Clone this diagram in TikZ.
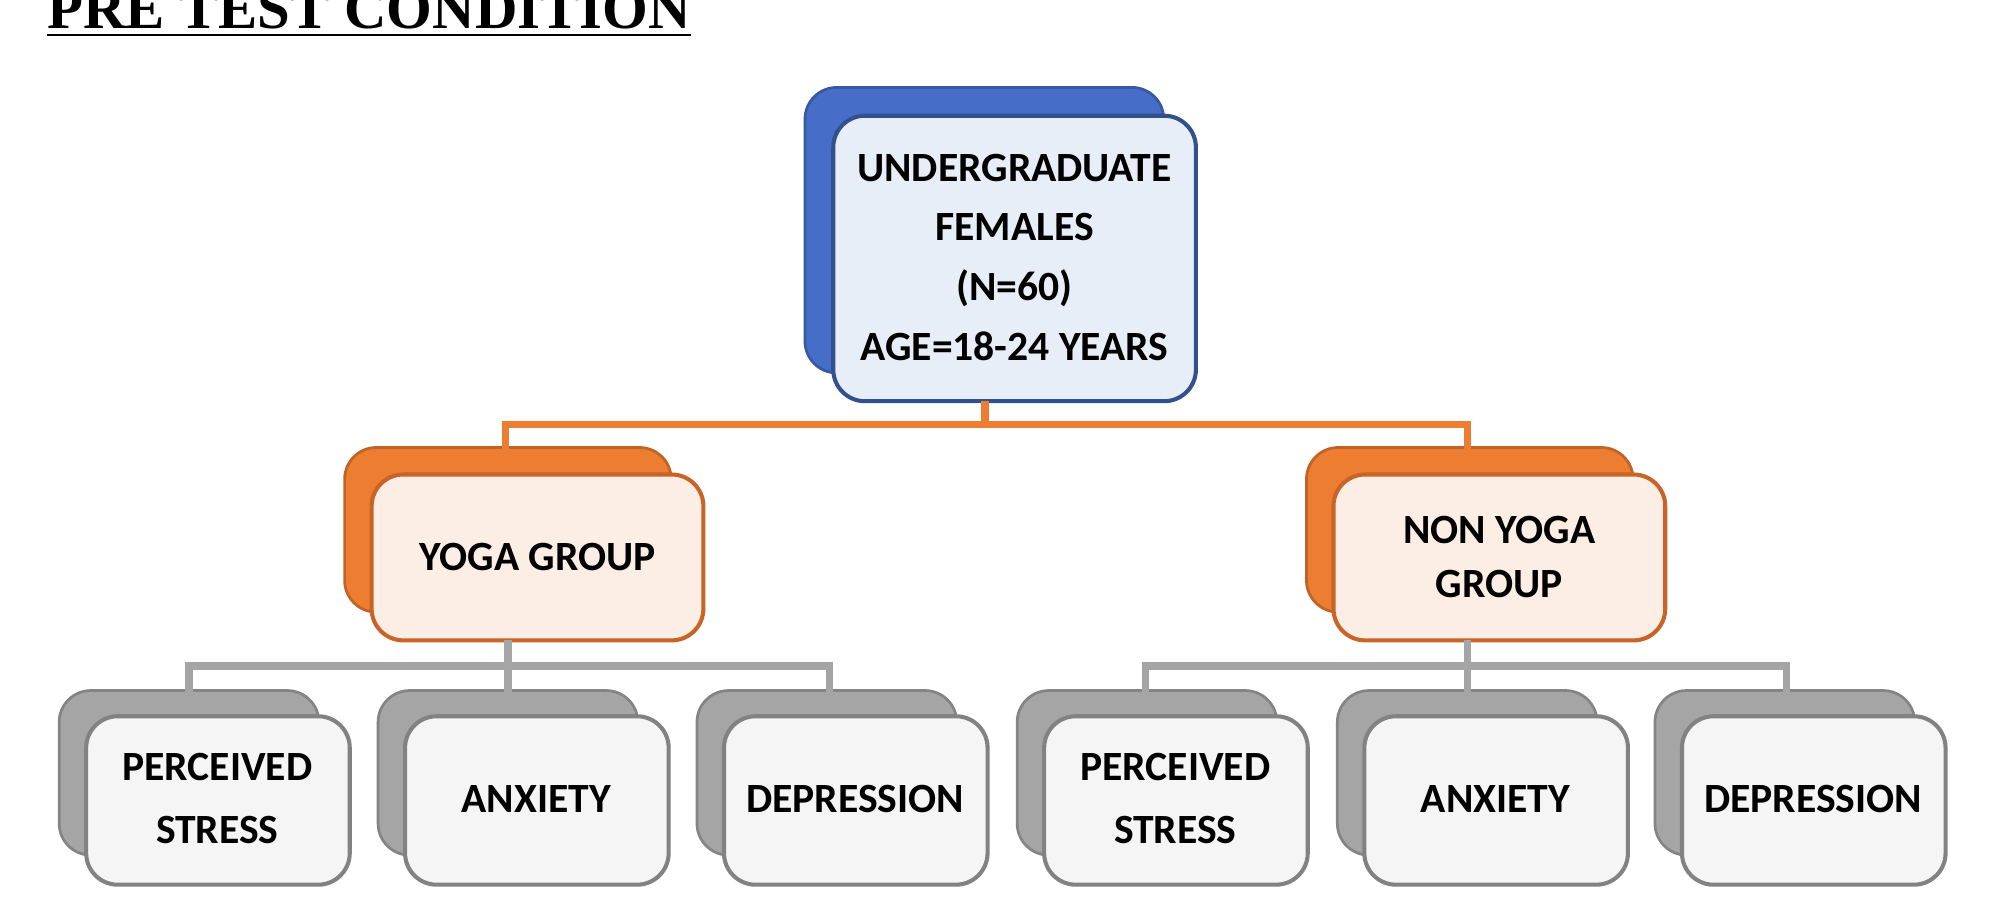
\documentclass[tikz,border=0pt]{standalone}
\usepackage{fontspec}
\setmainfont{Carlito}
\newfontfamily\titlefont{Liberation Serif}
\definecolor{blueback}{RGB}{70,110,200}
\definecolor{bluefill}{RGB}{232,238,248}
\definecolor{blueline}{RGB}{50,80,140}
\definecolor{orgback}{RGB}{237,125,49}
\definecolor{orgfill}{RGB}{252,238,228}
\definecolor{orgline}{RGB}{200,100,40}
\definecolor{grayback}{RGB}{165,165,165}
\definecolor{grayfill}{RGB}{245,245,245}
\definecolor{grayline}{RGB}{130,130,130}
\begin{document}
\begin{tikzpicture}[x=0.01cm,y=-0.01cm]
\tikzset{
  back/.style={draw=#1!80!black,fill=#1,rounded corners=7pt,line width=0.6pt},
  front/.style={draw=#1,rounded corners=7pt,line width=0.9pt,align=center,
    font=\bfseries\fontsize{9.2}{12}\selectfont},
  link/.style={line width=1.6pt}
}
\useasboundingbox (0,0) rectangle (1560,700);
\node[anchor=base west,inner sep=0pt,font=\titlefont\bfseries\fontsize{13}{13}\selectfont] (title) at (36,22) {\underline{PRE TEST CONDITION}};
% top box
\draw[back=blueback] (626,68) rectangle (905,290);
\draw[front=blueline,fill=bluefill] (648,90) rectangle (930,312);
\coordinate (topc) at (766,312);
\node[align=center,font=\bfseries\fontsize{9.2}{12}\selectfont] (top) at (789,200)
  {UNDERGRADUATE\\[1.2pt] FEMALES\\[1.2pt] (N=60)\\[1.2pt] AGE=18-24 YEARS};
% groups
\foreach \name/\x/\txt in {yoga/289/YOGA GROUP, nonyoga/1037/{NON YOGA\\GROUP}}{
  \draw[back=orgback] (\x-21,348) rectangle (\x+233,476);
  \draw[front=orgline,fill=orgfill] (\x,369) rectangle (\x+258,498);
  \node[front=orgline,draw=none] (\name) at (\x+129,433) {\txt};
}
% leaves
\foreach \name/\x/\txt in {ps1/67/{PERCEIVED\\[2pt]STRESS}, anx1/315/ANXIETY, dep1/563/DEPRESSION,
    ps2/812/{PERCEIVED\\[2pt]STRESS}, anx2/1061/ANXIETY, dep2/1308/DEPRESSION}{
  \draw[back=grayback] (\x-21,537) rectangle (\x+181,665);
  \draw[front=grayline,fill=grayfill] (\x,557) rectangle (\x+205,688);
  \node[front=grayline,draw=none] (\name) at (\x+102,621) {\txt};
}
% connectors
\draw[link,orgback] (topc) -- (766,330) -- (393,330) -- (393,350);
\draw[link,orgback] (766,330) -- (1141,330) -- (1141,350);
\draw[link,grayback] (395,498) -- (395,518) -- (147,518) -- (147,538);
\draw[link,grayback] (395,518) -- (645,518) -- (645,538);
\draw[link,grayback] (395,518) -- (395,538);
\draw[link,grayback] (1141,498) -- (1141,518) -- (891,518) -- (891,538);
\draw[link,grayback] (1141,518) -- (1389,518) -- (1389,538);
\draw[link,grayback] (1141,518) -- (1141,538);
\end{tikzpicture}
\end{document}
